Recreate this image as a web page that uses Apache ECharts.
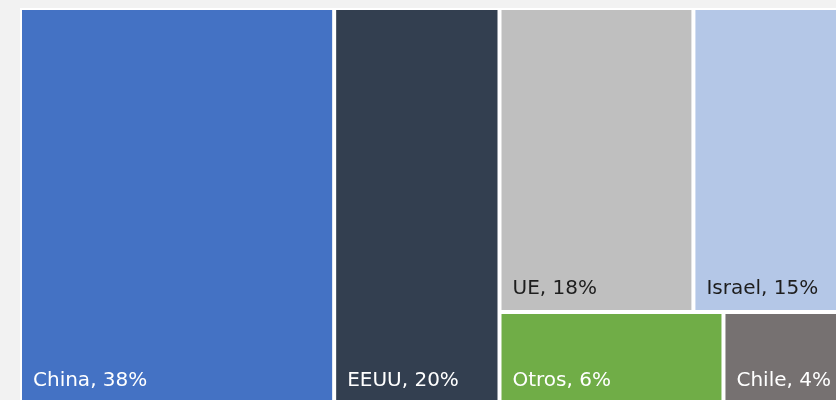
<!DOCTYPE html>
<html>
<head>
<meta charset="utf-8">
<script src="https://cdn.jsdelivr.net/npm/echarts@6/dist/echarts.min.js"></script>
<style>
html,body{margin:0;padding:0;background:#f2f2f2;}
#c{width:836px;height:400px;}
</style>
</head>
<body>
<div id="c"></div>
<script>
const topNames = ['China', 'EEUU'];
const topValues = [38, 20];
const topColors = ['#4472C4', '#333F50'];
const groupNames = ['UE', 'Israel', 'Otros', 'Chile'];
const groupValues = [18, 15, 6.3, 3.7];
const groupColors = ['#BFBFBF', '#B4C7E7', '#70AD47', '#767171'];
const darkLabel = ['UE', 'Israel'];

function leaf(name, value, color) {
  return {
    name: name,
    value: value,
    itemStyle: { color: color },
    label: { color: darkLabel.includes(name) ? '#1e1e1e' : '#ffffff' }
  };
}

const data = topNames.map((n, i) => leaf(n, topValues[i], topColors[i]));
data.push({
  name: 'grupo',
  itemStyle: { color: '#ffffff' },
  children: groupNames.map((n, i) => leaf(n, groupValues[i], groupColors[i]))
});

const chart = echarts.init(document.getElementById('c'));
chart.setOption({
  backgroundColor: '#f2f2f2',
  animation: false,
  series: [{
    type: 'treemap',
    left: 20, top: 8, width: 835, height: 396,
    sort: false,
    roam: false,
    nodeClick: false,
    breadcrumb: { show: false },
    squareRatio: 1,
    label: {
      show: true,
      position: 'insideBottomLeft',
      distance: 6,
      fontFamily: 'DejaVu Sans',
      fontSize: 20,
      formatter: p => p.name + ', ' + Math.round(p.value) + '%'
    },
    upperLabel: { show: false },
    levels: [
      { itemStyle: { borderColor: '#ffffff', borderWidth: 2, gapWidth: 4 } },
      { itemStyle: { borderColor: '#ffffff', borderWidth: 0, gapWidth: 4 } },
      { itemStyle: { borderColor: '#ffffff', borderWidth: 0, gapWidth: 0 } }
    ],
    data: data
  }]
});
</script>
</body>
</html>
